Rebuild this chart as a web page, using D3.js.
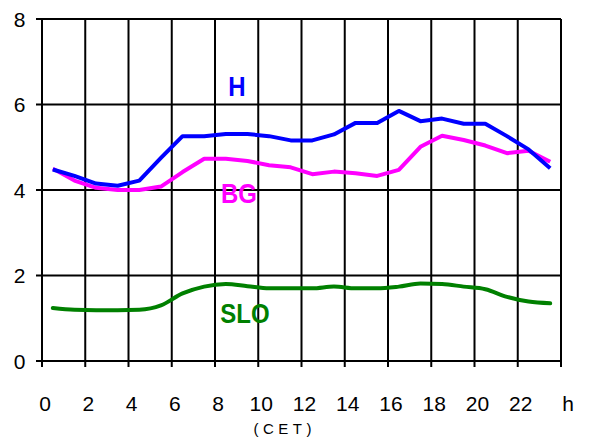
<!DOCTYPE html>
<html><head><meta charset="utf-8">
<script src="https://cdn.jsdelivr.net/npm/d3@7"></script>
<style>body{margin:0;background:#fff}svg{display:block}</style>
</head><body>
<svg id="c" width="590" height="439"></svg>
<script>
const hours = [0.5,1.5,2.5,3.5,4.5,5.5,6.5,7.5,8.5,9.5,10.5,11.5,12.5,13.5,14.5,15.5,16.5,17.5,18.5,19.5,20.5,21.5,22.5,23.5];
const seriesH   = [4.48,4.33,4.15,4.10,4.22,4.75,5.26,5.26,5.31,5.31,5.26,5.16,5.16,5.30,5.57,5.57,5.85,5.61,5.67,5.55,5.55,5.26,4.95,4.51];
const seriesBG  = [4.50,4.22,4.05,4.00,4.00,4.08,4.42,4.73,4.73,4.68,4.58,4.53,4.37,4.43,4.39,4.33,4.47,5.01,5.27,5.17,5.04,4.86,4.92,4.66];
const seriesSLO = [1.24,1.20,1.19,1.19,1.20,1.30,1.58,1.74,1.80,1.75,1.70,1.70,1.70,1.74,1.70,1.70,1.74,1.81,1.80,1.74,1.68,1.50,1.39,1.35];
const xTicks = [0,2,4,6,8,10,12,14,16,18,20,22];
const yTicks = [0,2,4,6,8];
const seriesNames = ["H","BG","SLO"];

const svg = d3.select("#c");
const L = 42, R = 561, T = 19, B = 361;
const x = d3.scaleLinear().domain([0,24]).range([L,R]);
const y = d3.scaleLinear().domain([0,8]).range([B,T]);

const font = "'Liberation Sans', Arial, sans-serif";

// grid
const g = svg.append("g");
g.selectAll("line.v").data(d3.range(0,25,2)).join("line")
  .attr("x1", d=>x(d)).attr("x2", d=>x(d)).attr("y1", T).attr("y2", B+6)
  .attr("stroke","#000").attr("stroke-width",2);
g.selectAll("line.h").data(yTicks).join("line")
  .attr("x1", L-6).attr("x2", R).attr("y1", d=>y(d)).attr("y2", d=>y(d))
  .attr("stroke","#000").attr("stroke-width",2);

// y labels
svg.selectAll("text.yl").data(yTicks).join("text")
  .attr("x", 25.5).attr("y", d=>y(d)).attr("dy","0.36em")
  .attr("text-anchor","end").attr("font-family",font).attr("font-size",21)
  .text(d=>d);
// x labels
svg.selectAll("text.xl").data(xTicks).join("text")
  .attr("x", d=>x(d)+3).attr("y", 403).attr("dy","0.36em")
  .attr("text-anchor","middle").attr("font-family",font).attr("font-size",21)
  .text(d=>d);
svg.append("text").attr("x", x(24)+7).attr("y",403).attr("dy","0.36em")
  .attr("text-anchor","middle").attr("font-family",font).attr("font-size",21).text("h");
svg.append("text").attr("x", 282.5 + 2.2).attr("y",429).attr("dy","0.36em")
  .attr("text-anchor","middle").attr("font-family",font).attr("font-size",15)
  .attr("letter-spacing","4.5px").text("(CET)");

// lines
const mk = (vals, curve) => d3.line().x((d,i)=>x(hours[i])).y(d=>y(d)).curve(curve)(vals);
svg.append("path").attr("d", mk(seriesSLO, d3.curveMonotoneX)).attr("fill","none")
  .attr("stroke","#008000").attr("stroke-width",4).attr("stroke-linejoin","round").attr("stroke-linecap","round");
svg.append("path").attr("d", mk(seriesBG, d3.curveLinear)).attr("fill","none")
  .attr("stroke","#ff00ff").attr("stroke-width",4).attr("stroke-linejoin","round");
svg.append("path").attr("d", mk(seriesH, d3.curveLinear)).attr("fill","none")
  .attr("stroke","#0000ff").attr("stroke-width",4).attr("stroke-linejoin","round");

// series labels
const labels = [
  {t: seriesNames[0], x: 237, y: 96, c: "#0000ff"},
  {t: seriesNames[1], x: 239, y: 203, c: "#ff00ff"},
  {t: seriesNames[2], x: 245, y: 323, c: "#008000"}
];
labels.forEach(l => {
  svg.append("text").attr("transform", `translate(${l.x},${l.y}) scale(1,1.15)`)
    .attr("text-anchor","middle").attr("font-family",font).attr("font-weight","bold")
    .attr("font-size",24).attr("fill",l.c).text(l.t);
});
</script>
</body></html>
